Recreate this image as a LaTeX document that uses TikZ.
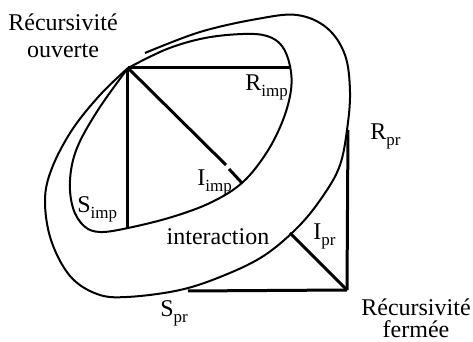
\documentclass[tikz,border=0pt]{standalone}
\usepackage{fontspec}
\setmainfont{Liberation Serif}
\newcommand{\lblsub}[2]{#1\raisebox{-3pt}{\fontsize{8.5}{9}\selectfont #2}}
\begin{document}
\begin{tikzpicture}[x=0.5pt,y=-0.5pt,
  txt/.style={inner sep=0pt,font=\fontsize{12}{14}\selectfont},
  seg/.style={line width=1.5pt},
  crv/.style={line width=1pt}]
\useasboundingbox (0,0) rectangle (473,342);
% key points
\coordinate (A) at (128,68);
\coordinate (B) at (347,290);
\coordinate (rimpEnd) at (290,68);
\coordinate (simpEnd) at (128,229);
\coordinate (iimpA) at (226,165);
\coordinate (iimpB) at (229,169);
\coordinate (iimpEnd) at (242,183);
\coordinate (rprEnd) at (348,130);
\coordinate (sprEnd) at (188,291);
\coordinate (iprEnd) at (290,233);
% inner loop
\draw[crv] plot[smooth,tension=0.6] coordinates {(128,68) (167,49) (205,38) (243,34) (267,36) (282,46) (290,66) (291,90) (283,120) (267,152) (243,182) (212,202) (172,217) (128,228) (100,232) (84,226) (73,208) (70,180) (77,148) (98,110) (128,68)};
% outer curve
\draw[crv] plot[smooth,tension=0.6] coordinates {(145,53) (200,32) (257,19) (297,15) (327,28) (345,55) (350,92) (347,130) (340,165) (325,193) (300,225) (265,255) (225,275) (180,290) (127,297) (97,294) (70,276) (51,240) (45,200) (52,168) (72,130) (100,95) (128,68)};
% straight segments
\draw[seg] (A) -- (rimpEnd);
\draw[seg] (A) -- (simpEnd);
\draw[seg] (A) -- (iimpA);
\draw[seg] (iimpB) -- (iimpEnd);
\draw[seg] (B) -- (rprEnd);
\draw[seg] (B) -- (sprEnd);
\draw[seg] (B) -- (iprEnd);
% labels
\node[txt,anchor=base] (ro1) at (63,31) {Récursivité};
\node[txt,anchor=base] (ro2) at (63,58) {ouverte};
\node[txt,anchor=base west] (rimp) at (245,91) {\lblsub{R}{imp}};
\node[txt,anchor=base west] (rpr) at (370,140) {\lblsub{R}{pr}};
\node[txt,anchor=base west] (iimp) at (197,186) {\lblsub{I}{imp}};
\node[txt,anchor=base west] (simp) at (77,213) {\lblsub{S}{imp}};
\node[txt,anchor=base] (inter) at (218,245) {interaction};
\node[txt,anchor=base west] (ipr) at (313,240) {\lblsub{I}{pr}};
\node[txt,anchor=base west] (spr) at (160,317) {\lblsub{S}{pr}};
\node[txt,anchor=base] (rf1) at (416,316) {Récursivité};
\node[txt,anchor=base] (rf2) at (416,338) {fermée};
\end{tikzpicture}
\end{document}
